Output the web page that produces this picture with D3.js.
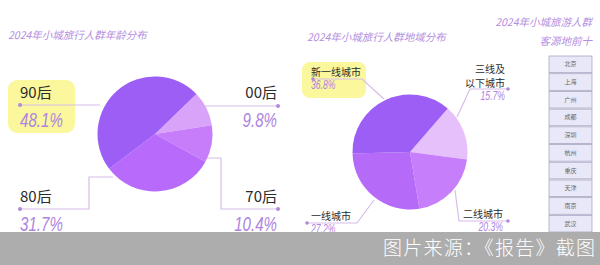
<!DOCTYPE html>
<html>
<head>
<meta charset="utf-8">
<script src="https://cdn.jsdelivr.net/npm/d3@7"></script>
<style>
  body { margin: 0; background: #fff; }
  svg { display: block; font-family: "Noto Sans CJK SC", "Noto Sans", sans-serif; }
  .ttl { fill: #b48ee0; font-size: 10.5px; font-style: italic; }
  .lbl { fill: #2b2b2b; }
  .pct { fill: #ae84e0; font-family: "Liberation Sans", "DejaVu Sans", sans-serif; font-style: italic; }
  .lead { fill: none; stroke: #d8bdea; stroke-width: 1.2; }
  .dot { fill: #b28ad8; }
</style>
</head>
<body>
<svg id="chart" width="600" height="265"></svg>
<script>
const ageLabels = ['00后', '70后', '80后', '90后'];
const ageValues = [9.8, 10.4, 31.7, 48.1];
const ageColors = ['#d9a3f9', '#c77cfa', '#b86bfa', '#9c5ef5'];

const regionLabels = ['三线及以下城市', '二线城市', '一线城市', '新一线城市'];
const regionValues = [15.7, 20.3, 27.2, 36.8];
const regionColors = ['#e6c0fb', '#c77efa', '#b56bf8', '#9c5ef5'];

const topCities = ['北京', '上海', '广州', '成都', '深圳', '杭州', '重庆', '天津', '南京', '武汉'];

const svg = d3.select('#chart');
const deg = Math.PI / 180;

function drawPie(cx, cy, r, values, colors, start) {
	const pie = d3.pie().sort(null).startAngle(start * deg).endAngle(start * deg + 2 * Math.PI);
	const arc = d3.arc().innerRadius(0).outerRadius(r);
	svg.append('g')
		.attr('transform', 'translate(' + cx + ',' + cy + ')')
		.selectAll('path')
		.data(pie(values))
		.enter()
		.append('path')
		.attr('d', arc)
		.attr('fill', (d, i) => colors[i]);
}

// narrow italic percentage, squeezed horizontally like the original
function pctText(x, y, anchor, size, txt) {
	svg.append('text').attr('class', 'pct')
		.attr('transform', 'translate(' + x + ',' + y + ') scale(0.72,1)')
		.attr('text-anchor', anchor).style('font-size', size + 'px').text(txt);
}

// left chart
svg.append('text').attr('class', 'ttl').attr('x', 8).attr('y', 39).text('2024年小城旅行人群年龄分布');
svg.append('rect').attr('x', 8).attr('y', 80).attr('width', 67).attr('height', 53).attr('rx', 9).attr('fill', '#fbf79c');

const leftLeads = [
	[[20, 105], [100, 105]],
	[[205, 106], [278, 106]],
	[[20, 209], [89, 209], [89, 177], [113, 177]],
	[[205, 158], [221, 158], [221, 209], [278, 209]]
];
leftLeads.forEach(p => {
	svg.append('path').attr('class', 'lead').attr('d', d3.line()(p));
});
[[20, 105], [278, 106], [20, 209], [278, 209]].forEach(p => {
	svg.append('circle').attr('class', 'dot').attr('cx', p[0]).attr('cy', p[1]).attr('r', 2);
});

drawPie(155, 134, 57.5, ageValues, ageColors, 46);

const ageText = [
	{ i: 3, x: 20, y: 98, a: 'start' },
	{ i: 0, x: 277, y: 98, a: 'end' },
	{ i: 2, x: 20, y: 202, a: 'start' },
	{ i: 1, x: 277, y: 202, a: 'end' }
];
ageText.forEach(t => {
	svg.append('text').attr('class', 'lbl').attr('x', t.x).attr('y', t.y)
		.attr('text-anchor', t.a).style('font-size', '15px').text(ageLabels[t.i]);
	pctText(t.x, t.y + 29, t.a, 21, ageValues[t.i] + '%');
});

// right chart
svg.append('text').attr('class', 'ttl').attr('x', 307).attr('y', 41).text('2024年小城旅行人群地域分布');
svg.append('rect').attr('x', 302).attr('y', 62).attr('width', 64).attr('height', 36).attr('rx', 8).attr('fill', '#fbf79c');

const rightLeads = [
	[[313, 79], [362, 79], [384, 99]],
	[[508, 89], [470, 89], [457, 117]],
	[[307, 223], [357, 223], [374, 200]],
	[[455, 190], [459, 221], [508, 221]]
];
rightLeads.forEach(p => {
	svg.append('path').attr('class', 'lead').attr('d', d3.line()(p));
});
[[313, 79], [508, 89], [307, 223], [508, 221]].forEach(p => {
	svg.append('circle').attr('class', 'dot').attr('cx', p[0]).attr('cy', p[1]).attr('r', 1.8);
});

drawPie(410, 152, 57.5, regionValues, regionColors, 41);

const regText = [
	{ i: 3, x: 311, y: 76, a: 'start', lines: ['新一线城市'] },
	{ i: 0, x: 505, y: 73, a: 'end', lines: ['三线及', '以下城市'] },
	{ i: 2, x: 311, y: 220, a: 'start', lines: ['一线城市'] },
	{ i: 1, x: 503, y: 218, a: 'end', lines: ['二线城市'] }
];
regText.forEach(t => {
	t.lines.forEach((s, k) => {
		svg.append('text').attr('class', 'lbl').attr('x', t.x).attr('y', t.y + k * 13.5)
			.attr('text-anchor', t.a).style('font-size', '10px').text(s);
	});
	pctText(t.x, t.y + (t.lines.length - 1) * 13.5 + 13, t.a, 12, regionValues[t.i] + '%');
});

// top ten table
svg.append('text').attr('class', 'ttl').attr('x', 592).attr('y', 26).attr('text-anchor', 'end').text('2024年小城旅游人群');
svg.append('text').attr('class', 'ttl').attr('x', 592).attr('y', 45).attr('text-anchor', 'end').text('客源地前十');

const rowScale = d3.scaleBand().domain(topCities).range([56, 232]).paddingInner(0.06);
const rows = svg.append('g').selectAll('g').data(topCities).enter().append('g');
rows.append('rect')
	.attr('x', 549).attr('y', d => rowScale(d))
	.attr('width', 43).attr('height', rowScale.bandwidth())
	.attr('fill', '#e9e8f8').attr('stroke', '#a8a6c0').attr('stroke-width', 0.8);
rows.append('text')
	.attr('x', 570.5).attr('y', d => rowScale(d) + rowScale.bandwidth() / 2 + 2)
	.attr('text-anchor', 'middle').style('font-size', '6px').attr('fill', '#666')
	.text(d => d);

// source banner
svg.append('rect').attr('x', 0).attr('y', 232).attr('width', 600).attr('height', 33).attr('fill', '#adadad');
svg.append('text').attr('x', 595).attr('y', 255).attr('text-anchor', 'end')
	.attr('textLength', 212).attr('lengthAdjust', 'spacing')
	.style('font-size', '19px').style('font-weight', 300).attr('fill', '#fff')
	.text('图片来源：《报告》截图');
</script>
</body>
</html>
